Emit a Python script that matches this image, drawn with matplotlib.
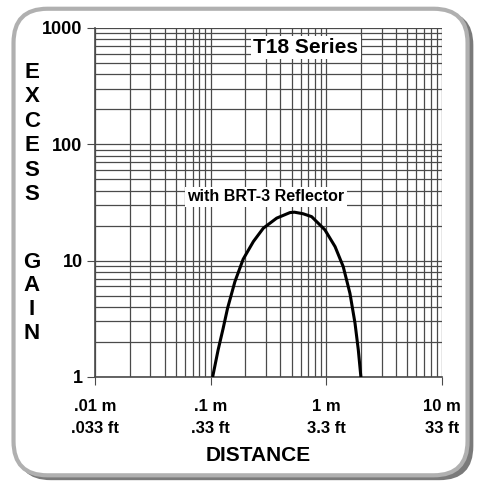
import numpy as np
import matplotlib.pyplot as plt
from matplotlib.patches import FancyBboxPatch
from matplotlib.ticker import LogLocator, NullFormatter

# curve (distance in m, excess gain)
dist = [0.104, 0.116, 0.128, 0.140, 0.162, 0.191, 0.234, 0.285, 0.372, 0.485,
        0.53, 0.63, 0.746, 0.972, 1.19, 1.40, 1.60, 1.77, 1.89, 1.99]
gain = [1.0, 1.71, 2.6, 3.9, 6.6, 10.3, 14.6, 19.0, 23.2, 25.9,
        26.1, 25.3, 23.9, 18.4, 13.2, 8.88, 5.24, 2.90, 1.71, 1.0]

xticks = [0.01, 0.1, 1, 10]
xlabels = ['.01 m\n.033 ft', '.1 m\n.33 ft', '1 m\n3.3 ft', '10 m\n33 ft']
yticks = [1, 10, 100, 1000]
ylabels = ['1', '10', '100', '1000']

plt.rcParams['font.family'] = ['Liberation Sans', 'DejaVu Sans']

fig = plt.figure(figsize=(4.83, 4.86), dpi=100)

# rounded card with shadow
shadow = FancyBboxPatch((0.035, 0.012), 0.945, 0.965, boxstyle='round,pad=0,rounding_size=0.07',
                        transform=fig.transFigure, fc='#7a7a7a', ec='none', zorder=-3)
card = FancyBboxPatch((0.028, 0.022), 0.94, 0.96, boxstyle='round,pad=0,rounding_size=0.07',
                      transform=fig.transFigure, fc='white', ec='#b0b0b0', lw=3, zorder=-2)
fig.patches.extend([shadow, card])

ax = fig.add_axes([0.1967, 0.2243, 0.7184, 0.7181])
ax.set_facecolor('none')
ax.set_xscale('log')
ax.set_yscale('log')
ax.set_xlim(0.01, 10)
ax.set_ylim(1, 1000)

ax.xaxis.set_minor_locator(LogLocator(base=10, subs=np.arange(2, 10)))
ax.yaxis.set_minor_locator(LogLocator(base=10, subs=np.arange(2, 10)))
ax.xaxis.set_minor_formatter(NullFormatter())
ax.yaxis.set_minor_formatter(NullFormatter())
ax.grid(True, which='both', color='#4a4a4a', linewidth=0.9)
ax.set_axisbelow(True)

for s in ['top', 'right']:
    ax.spines[s].set_visible(False)
for s in ['left', 'bottom']:
    ax.spines[s].set_color('#4a4a4a')
    ax.spines[s].set_linewidth(1.2)

ax.set_xticks(xticks)
ax.set_xticklabels(xlabels, fontsize=12, fontweight='bold', linespacing=1.6)
ax.set_yticks(yticks)
ax.set_yticklabels(ylabels, fontsize=13, fontweight='bold')
ax.tick_params(axis='x', which='major', length=6, color='#4a4a4a', pad=10)
ax.tick_params(axis='y', which='major', length=6, color='#4a4a4a', pad=3)
ax.tick_params(which='minor', length=0)

ax.plot(dist, gain, color='black', lw=2.2, solid_capstyle='round',
        solid_joinstyle='round', zorder=5)

ax.text(0.608, 0.943, 'T18 Series', transform=ax.transAxes, ha='center', va='center',
        fontsize=15, fontweight='bold',
        bbox=dict(fc='white', ec='none', pad=1.5))
ax.text(0.493, 0.516, 'with BRT-3 Reflector', transform=ax.transAxes, ha='center', va='center',
        fontsize=11.5, fontweight='bold',
        bbox=dict(fc='white', ec='none', pad=2))

fig.text(0.535, 0.063, 'DISTANCE', ha='center', va='center', fontsize=15, fontweight='bold')

for i, ch in enumerate('EXCESS'):
    fig.text(0.066, 1 - (72 + i * 24.6) / 486, ch, ha='center', va='center',
             fontsize=16, fontweight='bold')
for i, ch in enumerate('GAIN'):
    fig.text(0.066, 1 - (262 + i * 23.7) / 486, ch, ha='center', va='center',
             fontsize=16, fontweight='bold')

fig.savefig('out.png', dpi=100)
